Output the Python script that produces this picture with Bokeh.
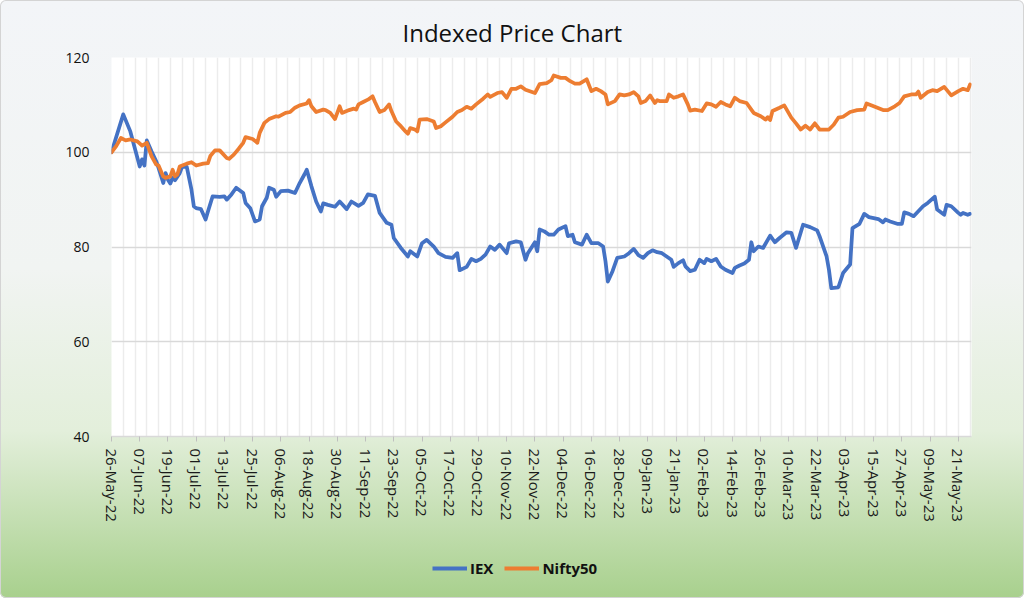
import pandas as pd
from bokeh.plotting import figure
from bokeh.layouts import column
from bokeh.models import (FixedTicker, DatetimeTickFormatter, Range1d, Legend,
                          LegendItem)
from bokeh.embed import file_html
from bokeh.resources import INLINE

# ---------------- data ----------------
start_date = "2022-05-26"

iex_day = [0, 5, 8, 12, 13, 14, 15, 17, 19, 20, 22, 23, 24, 25, 26, 27, 29, 30, 32, 34,
           35, 36, 38, 40, 41, 43, 46, 48, 49, 51, 53, 56, 57, 59, 61, 63, 64, 66, 67, 69,
           70, 72, 75, 78, 80, 82, 83, 85, 87, 89, 90, 92, 95, 97, 100, 102, 105, 107, 109, 112,
           114, 117, 119, 120, 123, 126, 127, 130, 132, 134, 137, 139, 142, 145, 147, 148, 151, 153, 155, 157,
           159, 161, 163, 165, 168, 169, 172, 174, 176, 177, 180, 181, 182, 184, 186, 188, 190, 193, 194, 196,
           197, 200, 202, 204, 207, 209, 210, 211, 213, 215, 218, 220, 222, 224, 226, 228, 230, 232, 234, 236,
           238, 239, 241, 243, 244, 246, 248, 250, 252, 253, 255, 257, 259, 261, 264, 265, 267, 269, 271, 272,
           273, 275, 277, 280, 282, 284, 287, 289, 291, 294, 297, 300, 301, 304, 305, 306, 309, 311, 314, 315,
           318, 320, 322, 326, 328, 329, 331, 334, 336, 337, 339, 341, 345, 347, 350, 351, 354, 355, 357, 360,
           361, 362, 364, 365]
iex_value = [100.0, 108.0, 104.4, 97.0, 98.5, 97.2, 102.5, 100.2, 98.1, 96.7, 93.5, 95.6, 94.2, 93.4, 94.6, 94.1, 95.6, 96.9, 96.9, 92.1,
             88.6, 88.2, 88.0, 85.8, 87.5, 90.7, 90.6, 90.7, 90.0, 91.1, 92.5, 91.4, 89.3, 88.2, 85.4, 85.8, 88.6, 90.4, 92.5, 92.1,
             90.6, 91.8, 91.9, 91.4, 93.5, 95.3, 96.3, 92.8, 89.6, 87.5, 89.2, 88.9, 88.5, 89.6, 88.0, 89.6, 88.7, 89.3, 91.1, 90.8,
             87.2, 85.1, 84.7, 81.9, 79.8, 78.0, 79.1, 78.0, 80.8, 81.5, 80.1, 78.7, 77.9, 77.7, 78.7, 75.1, 75.8, 77.5, 77.0, 77.5,
             78.4, 80.1, 79.4, 80.5, 78.7, 80.8, 81.2, 81.0, 77.3, 78.7, 81.0, 79.1, 83.7, 83.3, 82.6, 82.6, 83.7, 84.4, 82.3, 82.6,
             81.0, 80.5, 82.6, 80.8, 80.8, 80.1, 77.0, 72.7, 74.9, 77.7, 78.0, 78.7, 79.6, 78.3, 77.7, 78.7, 79.3, 78.9, 78.7, 78.0,
             77.3, 75.8, 76.6, 77.2, 75.9, 74.9, 75.2, 77.3, 76.6, 77.5, 77.0, 77.5, 75.9, 75.2, 74.5, 75.6, 76.1, 76.5, 77.3, 81.0,
             79.1, 80.1, 79.8, 82.4, 81.0, 81.9, 83.1, 83.0, 79.8, 84.7, 84.2, 83.5, 82.3, 78.0, 75.2, 71.3, 71.5, 74.5, 76.3, 84.0,
             84.9, 87.0, 86.3, 85.9, 85.2, 85.8, 85.4, 84.9, 84.9, 87.3, 87.0, 86.5, 88.6, 89.3, 90.6, 87.9, 86.8, 88.9, 88.6, 87.2,
             86.8, 87.2, 86.8, 87.0]

nifty_day = [0, 2, 4, 6, 8, 11, 13, 15, 17, 19, 20, 22, 23, 25, 26, 27, 28, 29, 32, 34,
             36, 39, 41, 42, 44, 46, 49, 50, 52, 54, 56, 57, 60, 62, 63, 65, 67, 70, 71, 74,
             76, 78, 80, 83, 84, 85, 87, 90, 91, 93, 95, 97, 98, 101, 103, 104, 105, 107, 109, 111,
             112, 114, 116, 118, 119, 121, 123, 125, 126, 127, 129, 130, 131, 134, 137, 138, 140, 142, 145, 147,
             149, 151, 153, 155, 158, 160, 161, 164, 166, 168, 170, 172, 174, 176, 180, 182, 185, 187, 188, 191,
             193, 195, 197, 199, 202, 204, 206, 208, 210, 211, 214, 216, 218, 220, 222, 224, 225, 227, 229, 231,
             232, 233, 236, 237, 239, 241, 243, 245, 246, 248, 251, 253, 255, 257, 259, 261, 263, 265, 267, 270,
             272, 273, 276, 278, 279, 280, 281, 284, 286, 289, 291, 293, 295, 297, 299, 301, 305, 307, 309, 311,
             314, 317, 320, 321, 324, 328, 330, 333, 335, 337, 340, 342, 343, 344, 347, 349, 351, 354, 357, 360,
             362, 364, 365]
nifty_value = [100.0, 101.3, 103.0, 102.5, 102.7, 102.3, 101.4, 102.0, 99.2, 97.4, 97.2, 94.9, 94.6, 94.9, 96.3, 94.9, 95.3, 97.0, 97.6, 97.9,
               97.2, 97.6, 97.7, 99.2, 100.4, 100.4, 98.8, 98.6, 99.5, 100.7, 102.0, 103.2, 102.8, 102.0, 104.1, 106.2, 107.0, 107.6, 107.5, 108.3,
               108.5, 109.4, 109.9, 110.3, 111.0, 109.7, 108.5, 109.0, 108.9, 108.3, 107.0, 109.7, 108.3, 108.9, 109.2, 109.0, 110.1, 110.6, 111.1, 111.8,
               110.6, 108.5, 108.9, 110.1, 108.7, 106.5, 105.5, 104.4, 103.9, 105.1, 104.8, 104.4, 106.9, 107.0, 106.5, 105.1, 105.5, 106.3, 107.5, 108.5,
               108.9, 109.6, 109.2, 110.1, 111.3, 112.2, 111.7, 112.5, 112.7, 111.5, 113.4, 113.4, 113.9, 113.2, 112.5, 114.4, 114.6, 115.2, 116.2, 115.7,
               115.7, 115.0, 114.5, 114.5, 115.4, 112.9, 113.4, 112.9, 112.2, 110.1, 110.8, 112.2, 112.0, 112.2, 112.7, 111.8, 110.4, 110.8, 112.0, 110.4,
               111.0, 110.8, 110.8, 112.2, 111.5, 111.8, 112.2, 110.1, 108.8, 109.0, 108.7, 110.3, 110.1, 109.6, 110.6, 110.1, 109.7, 111.5, 110.8, 110.4,
               109.0, 108.3, 107.6, 106.9, 107.4, 106.8, 108.7, 109.4, 109.9, 107.3, 106.1, 104.8, 105.6, 104.8, 106.1, 104.8, 104.8, 105.8, 107.3, 107.5,
               108.5, 108.9, 109.0, 110.3, 109.7, 108.9, 108.9, 109.7, 110.4, 111.8, 112.2, 112.2, 112.8, 111.5, 112.7, 113.1, 112.9, 113.8, 112.0, 112.9,
               113.4, 113.1, 114.3]

xtick_labels = ["26-May-22", "07-Jun-22", "19-Jun-22", "01-Jul-22", "13-Jul-22", "25-Jul-22",
                "06-Aug-22", "18-Aug-22", "30-Aug-22", "11-Sep-22", "23-Sep-22", "05-Oct-22",
                "17-Oct-22", "29-Oct-22", "10-Nov-22", "22-Nov-22", "04-Dec-22", "16-Dec-22",
                "28-Dec-22", "09-Jan-23", "21-Jan-23", "02-Feb-23", "14-Feb-23", "26-Feb-23",
                "10-Mar-23", "22-Mar-23", "03-Apr-23", "15-Apr-23", "27-Apr-23", "09-May-23",
                "21-May-23"]
y_ticks = [40, 60, 80, 100, 120]
series_names = ["IEX", "Nifty50"]
series_colors = ["#4472C4", "#ED7D31"]

# ---------------- build ----------------
t0 = pd.Timestamp(start_date)
iex_dates = t0 + pd.to_timedelta(iex_day, unit="D")
nifty_dates = t0 + pd.to_timedelta(nifty_day, unit="D")
tick_dates = pd.to_datetime(xtick_labels, format="%d-%b-%y")


def ms(ts):
    return (pd.Timestamp(ts) - pd.Timestamp("1970-01-01")) / pd.Timedelta(milliseconds=1)


x_end = t0 + pd.Timedelta(hours=365.6 * 24)

FONT = "Open Sans"

p = figure(width=1024, height=546, x_axis_type="datetime",
           output_backend="svg", toolbar_location=None,
           x_range=Range1d(t0, x_end), y_range=Range1d(40, 120),
           min_border_left=111, min_border_right=53,
           min_border_top=57, min_border_bottom=110)

p.border_fill_color = None
p.background_fill_color = "white"
p.outline_line_color = None

# title
p.title.text = "Indexed Price Chart"
p.title.align = "left"
p.title.offset = 291
p.title.text_font = FONT
p.title.text_font_size = "24px"
p.title.text_font_style = "normal"
p.title.text_color = "#111111"
p.title.standoff = 18

# grids
p.ygrid.ticker = FixedTicker(ticks=y_ticks)
p.ygrid.grid_line_color = "#d9d9d9"
p.ygrid.grid_line_width = 1.5
grid_ticks = [ms(t0 + pd.Timedelta(days=d)) for d in range(0, 366, 5)]
p.xgrid.ticker = FixedTicker(ticks=grid_ticks)
p.xgrid.grid_line_color = "#ececec"
p.xgrid.grid_line_width = 1.5

# axes
p.yaxis.ticker = FixedTicker(ticks=y_ticks)
p.yaxis.axis_line_color = None
p.yaxis.major_tick_line_color = None
p.yaxis.minor_tick_line_color = None
p.yaxis.major_label_standoff = 16
p.yaxis.major_label_text_font = FONT
p.yaxis.major_label_text_font_size = "14px"
p.yaxis.major_label_text_color = "#111111"

p.xaxis.ticker = FixedTicker(ticks=[ms(t) for t in tick_dates])
fmt = "%d-%b-%y"
p.xaxis.formatter = DatetimeTickFormatter(days=fmt, months=fmt, years=fmt, hours=fmt,
                                          hourmin=fmt, minutes=fmt, minsec=fmt,
                                          seconds=fmt, milliseconds=fmt, microseconds=fmt)
p.xaxis.major_label_orientation = "vertical"
p.xaxis.axis_line_color = "#d9d9d9"
p.xaxis.axis_line_width = 1.5
p.xaxis.major_tick_line_color = "#bfbfbf"
p.xaxis.major_tick_out = 5
p.xaxis.major_tick_in = 0
p.xaxis.minor_tick_line_color = None
p.xaxis.major_label_standoff = 7
p.xaxis.major_label_text_font = FONT
p.xaxis.major_label_text_font_size = "15px"
p.xaxis.major_label_text_color = "#1a1a1a"

# lines
p.line(iex_dates, iex_value, line_color=series_colors[0], line_width=3.75,
       line_join="round", line_cap="round")
p.line(nifty_dates, nifty_value, line_color=series_colors[1], line_width=3.75,
       line_join="round", line_cap="round")

# legend strip (separate figure below the chart; its frame aligns with the chart's).
# Its own copies of the series lie outside its (empty) view and only feed the legend glyphs.
leg = figure(width=1024, height=52, output_backend="svg", toolbar_location=None,
             x_range=Range1d(0, 1), y_range=Range1d(0, 1),
             x_axis_location=None, y_axis_location=None,
             min_border_left=0, min_border_right=0, min_border_top=0, min_border_bottom=0)
leg.grid.visible = False
leg.border_fill_color = None
leg.background_fill_color = None
leg.outline_line_color = None
items = []
for name, col, xs, ys in zip(series_names, series_colors,
                             [iex_day, nifty_day], [iex_value, nifty_value]):
    r = leg.line(xs, ys, line_color=col, line_width=4)
    items.append(LegendItem(label=name, renderers=[r]))
legend = Legend(items=items, orientation="horizontal", location=(321, 20),
                border_line_color=None, background_fill_alpha=0,
                label_text_font=FONT, label_text_font_size="15px",
                label_text_font_style="bold",
                label_text_color="#111111",
                glyph_width=35, glyph_height=20, label_height=20,
                spacing=11, label_standoff=3, padding=0, margin=0)
leg.add_layout(legend)

layout = column(p, leg, spacing=0)
layout.styles = {"background": "linear-gradient(to bottom, #f3f5f8 0%, #f1f4f2 45%, #e3efdb 72%, #a8d08d 100%)",
                 "border-radius": "6px",
                 "box-shadow": "inset 0 0 0 1px #d4d4d4"}

open("out.html", "w").write(file_html(layout, INLINE))
